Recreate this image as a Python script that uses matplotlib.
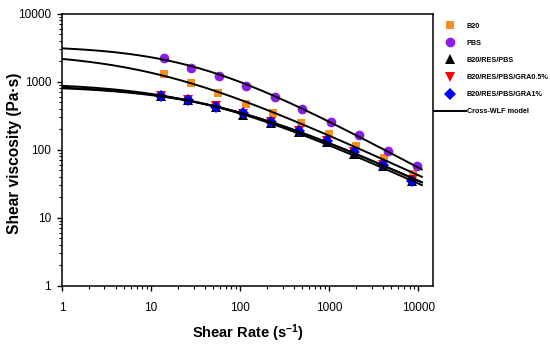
import numpy as np
import matplotlib
matplotlib.use("Agg")
import matplotlib.pyplot as plt
import matplotlib.ticker as ticker

plt.rcParams['font.family'] = ['Liberation Sans', 'DejaVu Sans']
plt.rcParams['mathtext.default'] = 'regular'

# measured data (shear rate in 1/s, viscosity in Pa s)
rate_b20 = [13.9, 27.9, 56.6, 116, 235, 481, 993, 2023, 4120, 8790]
visc_b20 = [1270, 942, 670, 462, 348, 243, 169, 112, 74, 43]

rate_pbs = [13.9, 28.4, 58.1, 118, 245, 498, 1038, 2173, 4530, 9750]
visc_pbs = [2190, 1600, 1205, 859, 597, 394, 257, 163, 96, 57]

rate_blend = [12.8, 26.1, 53.3, 108, 221, 456, 948, 1920, 3980, 8430]
visc_res_pbs = [610, 530, 425, 318, 245, 180, 127, 87, 57, 34]
visc_gra05 = [605, 538, 430, 330, 255, 187, 134, 91, 59, 35.5]
visc_gra1 = [605, 535, 426, 340, 251, 187, 135, 91, 59, 34.4]

# Cross-WLF fit parameters: eta0 (Pa s), tau* (Pa), n
eta0 = {'B20': 2690, 'PBS': 3370, 'B20/RES/PBS': 966,
        'B20/RES/PBS/GRA0.5%': 891, 'B20/RES/PBS/GRA1%': 871}
tau = {'B20': 26900, 'PBS': 95000, 'B20/RES/PBS': 34300,
       'B20/RES/PBS/GRA0.5%': 42700, 'B20/RES/PBS/GRA1%': 43600}
n_index = {'B20': 0.40, 'PBS': 0.30, 'B20/RES/PBS': 0.40,
           'B20/RES/PBS/GRA0.5%': 0.40, 'B20/RES/PBS/GRA1%': 0.40}


def cross(rate, name):
    e0 = eta0[name]
    return e0 / (1 + (e0 * rate / tau[name]) ** (1 - n_index[name]))


series = [
    ('B20', rate_b20, visc_b20, 's', '#f5901e', 6.0),
    ('PBS', rate_pbs, visc_pbs, 'o', '#8a1ee8', 7.0),
    ('B20/RES/PBS', rate_blend, visc_res_pbs, '^', '#000000', 7.0),
    ('B20/RES/PBS/GRA0.5%', rate_blend, visc_gra05, 'v', '#ff0000', 7.0),
    ('B20/RES/PBS/GRA1%', rate_blend, visc_gra1, 'D', '#0000ff', 6.0),
]

fig = plt.figure(figsize=(5.5, 3.46), dpi=100)
ax = fig.add_axes([62 / 550, 1 - 285.5 / 346, (433.3 - 62) / 550, (285.5 - 13.5) / 346])

handles = []
for name, xx, yy, marker, color, ms in series:
    h, = ax.plot(xx, yy, linestyle='none', marker=marker, color=color,
                 markersize=ms, markeredgewidth=0, label=name, zorder=2)
    handles.append(h)

grid = np.logspace(0, np.log10(11000), 300)
for name, *_ in series:
    ax.plot(grid, cross(grid, name), color='black', linewidth=1.4, zorder=3)
handles.append(plt.Line2D([], [], color='black', linewidth=1.4, label='Cross-WLF model'))

ax.set_xscale('log')
ax.set_yscale('log')
ax.set_xlim(1, 14800)
ax.set_ylim(1, 10000)
ax.xaxis.set_major_locator(ticker.FixedLocator([1, 10, 100, 1000, 10000]))
ax.yaxis.set_major_locator(ticker.FixedLocator([1, 10, 100, 1000, 10000]))
ax.xaxis.set_major_formatter(ticker.FuncFormatter(lambda v, p: '%d' % v))
ax.yaxis.set_major_formatter(ticker.FuncFormatter(lambda v, p: '%d' % v))
ax.xaxis.set_minor_locator(ticker.LogLocator(base=10, subs=np.arange(2, 10), numticks=20))
ax.yaxis.set_minor_locator(ticker.LogLocator(base=10, subs=np.arange(2, 10), numticks=20))
ax.xaxis.set_minor_formatter(ticker.NullFormatter())
ax.yaxis.set_minor_formatter(ticker.NullFormatter())

ax.tick_params(which='major', direction='out', length=3.8, width=1, labelsize=8.5, pad=8)
ax.tick_params(which='minor', direction='out', length=2.2, width=0.8)
ax.tick_params(axis='y', which='major', pad=4)
for s in ax.spines.values():
    s.set_linewidth(1.1)

ax.set_xlabel(r'Shear Rate (s$^{-1}$)', fontsize=10.5, fontweight='bold', labelpad=6)
ax.set_ylabel('Shear viscosity (Pa·s)', fontsize=11.2, fontweight='bold')
ax.yaxis.set_label_coords(-0.108, 0.486)

fig.legend(handles=handles, loc='upper left', bbox_to_anchor=(434 / 550, 1 - 22.5 / 346),
           frameon=False, prop={'weight': 'bold', 'size': 5.2},
           handlelength=4.4, handletextpad=0.15, labelspacing=1.4,
           borderpad=0, borderaxespad=0, numpoints=1)

fig.savefig('out.png', dpi=100)
